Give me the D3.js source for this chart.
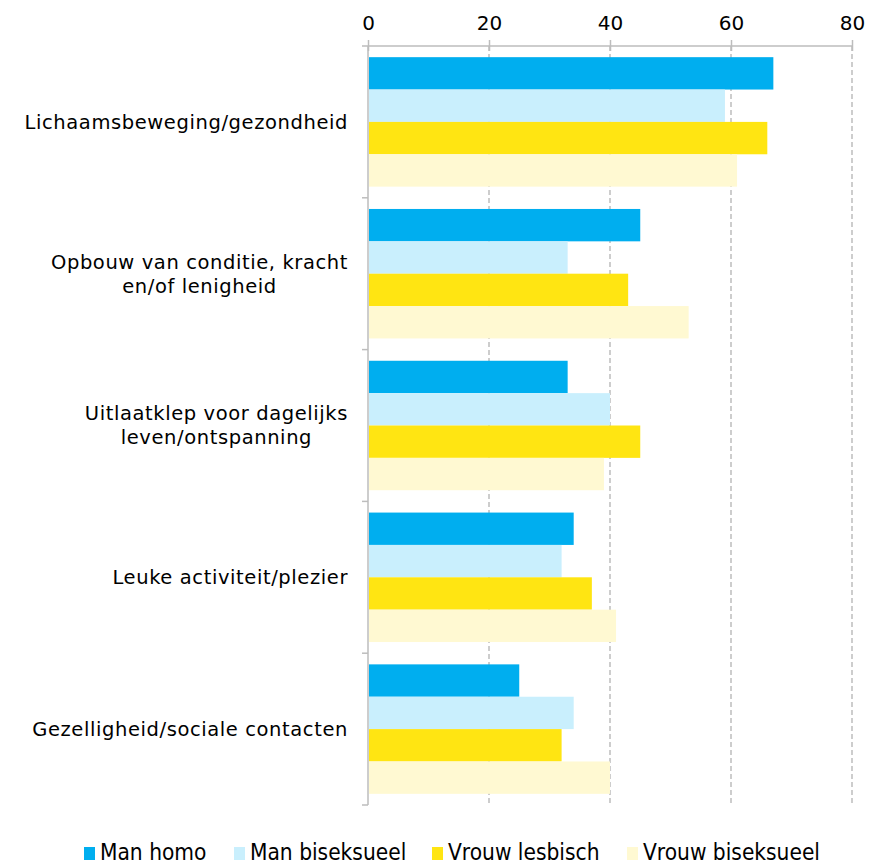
<!DOCTYPE html>
<html>
<head>
<meta charset="utf-8">
<script src="https://cdn.jsdelivr.net/npm/d3@7"></script>
<style>
  body { margin: 0; background: #fff; }
  svg text { font-family: "DejaVu Sans", Verdana, sans-serif; fill: #000; }
</style>
</head>
<body>
<div id="chart"></div>
<script>
// Categories (each may wrap onto two lines)
const categories = [
    ["Lichaamsbeweging/gezondheid"],
    ["Opbouw van conditie, kracht", "en/of lenigheid"],
    ["Uitlaatklep voor dagelijks", "leven/ontspanning"],
    ["Leuke activiteit/plezier"],
    ["Gezelligheid/sociale contacten"]
];
const seriesNames = ["Man homo", "Man biseksueel", "Vrouw lesbisch", "Vrouw biseksueel"];
const seriesColors = ["#00aeef", "#c9effd", "#ffe512", "#fff9d2"];

const manHomo = [67, 45, 33, 34, 25];
const manBiseksueel = [59, 33, 40, 32, 34];
const vrouwLesbisch = [66, 43, 45, 37, 32];
const vrouwBiseksueel = [61, 53, 39, 41, 40];

const xTicks = [0, 20, 40, 60, 80];

const width = 875, height = 863;
const margin = { top: 46, right: 23, bottom: 58, left: 368 };
const innerHeight = height - margin.top - margin.bottom;

const series = [manHomo, manBiseksueel, vrouwLesbisch, vrouwBiseksueel];
const rows = categories.map((c, i) => ({
    idx: i,
    values: series.map((s, j) => ({ key: j, value: s[i] }))
}));

const svg = d3.select("#chart")
    .append("svg")
    .attr("width", width)
    .attr("height", height);

const g = svg.append("g")
    .attr("transform", `translate(${margin.left},${margin.top})`);

// Scales
const x = d3.scaleLinear()
    .domain([0, 80])
    .range([0, 484]);

const y0 = d3.scaleBand()
    .domain(d3.range(categories.length))
    .range([0, innerHeight])
    .padding(0);

const y1 = d3.scaleBand()
    .domain(d3.range(series.length))
    .range([0, y0.bandwidth()])
    .paddingInner(0)
    .paddingOuter(0.345);

// Dashed gridlines
g.selectAll("line.grid")
    .data(xTicks.filter(t => t > 0))
    .enter()
    .append("line")
    .attr("class", "grid")
    .attr("x1", d => x(d))
    .attr("x2", d => x(d))
    .attr("y1", 0)
    .attr("y2", innerHeight)
    .attr("stroke", "#bdbdbd")
    .attr("stroke-width", 1.5)
    .attr("stroke-dasharray", "5,3");

// Bars
const groups = g.selectAll("g.group")
    .data(rows)
    .enter()
    .append("g")
    .attr("class", "group")
    .attr("transform", d => `translate(0,${y0(d.idx)})`);

groups.selectAll("rect")
    .data(d => d.values)
    .enter()
    .append("rect")
    .attr("x", 1)
    .attr("y", d => y1(d.key))
    .attr("width", d => x(d.value) - 1)
    .attr("height", y1.bandwidth())
    .attr("fill", d => seriesColors[d.key]);

// Top axis
const xAxis = g.append("g")
    .call(d3.axisTop(x).tickValues(xTicks).tickSize(5).tickPadding(11));
xAxis.select(".domain").attr("stroke", "#bdbdbd").attr("stroke-width", 1.5)
    .attr("d", `M0,0H${x(80)}`);
xAxis.selectAll(".tick line")
    .attr("stroke", "#bdbdbd")
    .attr("stroke-width", 1.5)
    .attr("y1", 5)
    .attr("y2", -6);
xAxis.selectAll(".tick text")
    .attr("font-size", "20px")
    .attr("font-family", "DejaVu Sans, sans-serif")
    .attr("fill", "#000");

// Left axis line with ticks at group boundaries
g.append("line")
    .attr("x1", 0).attr("x2", 0)
    .attr("y1", 0).attr("y2", innerHeight)
    .attr("stroke", "#bdbdbd")
    .attr("stroke-width", 1.5);

g.selectAll("line.ytick")
    .data(d3.range(categories.length + 1))
    .enter()
    .append("line")
    .attr("class", "ytick")
    .attr("x1", -6).attr("x2", 0)
    .attr("y1", d => d * y0.step())
    .attr("y2", d => d * y0.step())
    .attr("stroke", "#bdbdbd")
    .attr("stroke-width", 1.5);

// Category labels: block right-aligned, lines centred within the block
const lineH = 24;
categories.forEach((lines, i) => {
    const cy = y0(i) + y0.bandwidth() / 2;
    const t = g.append("text")
        .attr("font-size", "19.5px")
        .attr("letter-spacing", "0.6px")
        .attr("text-anchor", "middle");
    const tspans = lines.map((ln, k) => t.append("tspan")
        .attr("y", cy + (k - (lines.length - 1) / 2) * lineH)
        .attr("dy", "0.35em")
        .text(ln));
    const maxW = d3.max(tspans, s => s.node().getComputedTextLength());
    tspans.forEach(s => s.attr("x", -20 - maxW / 2));
});

// Legend
const legendX = [84, 234, 432, 627];
const legend = svg.append("g");
seriesNames.forEach((name, i) => {
    const item = legend.append("g")
        .attr("transform", `translate(${legendX[i]},0)`);
    item.append("rect")
        .attr("x", 0).attr("y", 847)
        .attr("width", 11).attr("height", 13)
        .attr("fill", seriesColors[i]);
    item.append("text")
        .attr("x", 16).attr("y", 860)
        .attr("font-family", "'DejaVu Sans Condensed', 'Liberation Sans Narrow', sans-serif")
        .attr("font-stretch", "condensed")
        .attr("font-size", "22.5px")
        .text(name);
});
</script>
</body>
</html>
